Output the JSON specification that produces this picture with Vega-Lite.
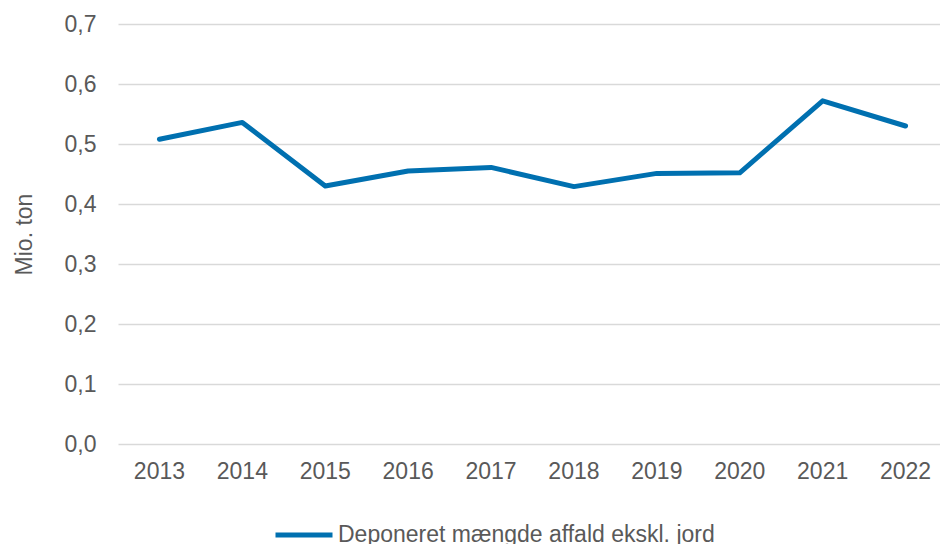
{
  "$schema": "https://vega.github.io/schema/vega-lite/v6.json",
  "width": 829,
  "height": 420,
  "autosize": {"type": "none"},
  "padding": {"left": 118, "top": 24, "right": 0, "bottom": 100},
  "background": "white",
  "config": {
    "view": {"stroke": null},
    "font": "Liberation Sans"
  },
  "data": {
    "values": [
      {"year": "2013", "value": 0.508, "series": "Deponeret mængde affald ekskl. jord"},
      {"year": "2014", "value": 0.536, "series": "Deponeret mængde affald ekskl. jord"},
      {"year": "2015", "value": 0.430, "series": "Deponeret mængde affald ekskl. jord"},
      {"year": "2016", "value": 0.455, "series": "Deponeret mængde affald ekskl. jord"},
      {"year": "2017", "value": 0.461, "series": "Deponeret mængde affald ekskl. jord"},
      {"year": "2018", "value": 0.429, "series": "Deponeret mængde affald ekskl. jord"},
      {"year": "2019", "value": 0.451, "series": "Deponeret mængde affald ekskl. jord"},
      {"year": "2020", "value": 0.452, "series": "Deponeret mængde affald ekskl. jord"},
      {"year": "2021", "value": 0.572, "series": "Deponeret mængde affald ekskl. jord"},
      {"year": "2022", "value": 0.530, "series": "Deponeret mængde affald ekskl. jord"}
    ]
  },
  "mark": {"type": "line", "strokeWidth": 5, "strokeCap": "round", "strokeJoin": "round"},
  "encoding": {
    "x": {
      "field": "year",
      "type": "ordinal",
      "scale": {"type": "band", "paddingInner": 0, "paddingOuter": 0},
      "axis": {
        "title": null,
        "labelAngle": 0,
        "domain": false,
        "ticks": false,
        "labelFontSize": 23,
        "labelColor": "#595959",
        "labelPadding": 16,
        "grid": false
      }
    },
    "y": {
      "field": "value",
      "type": "quantitative",
      "scale": {"domain": [0, 0.7], "nice": false},
      "axis": {
        "title": "Mio. ton",
        "titleFontSize": 23,
        "titleFontWeight": "normal",
        "titleColor": "#595959",
        "titlePadding": 28,
        "values": [0, 0.1, 0.2, 0.3, 0.4, 0.5, 0.6, 0.7],
        "format": ".1f",
        "formatType": "number",
        "labelExpr": "replace(datum.label, '.', ',')",
        "labelFontSize": 23,
        "labelColor": "#595959",
        "labelPadding": 22,
        "domain": false,
        "ticks": false,
        "grid": true,
        "gridColor": "#d9d9d9",
        "gridWidth": 1.5
      }
    },
    "color": {
      "field": "series",
      "type": "nominal",
      "scale": {"range": ["#0070B0"]},
      "legend": {
        "title": null,
        "orient": "none",
        "legendX": 155,
        "legendY": 480,
        "symbolType": "stroke",
        "symbolSize": 3249,
        "symbolStrokeWidth": 5,
        "labelFontSize": 23,
        "labelColor": "#595959",
        "labelOffset": 3,
        "labelLimit": 700
      }
    }
  }
}
